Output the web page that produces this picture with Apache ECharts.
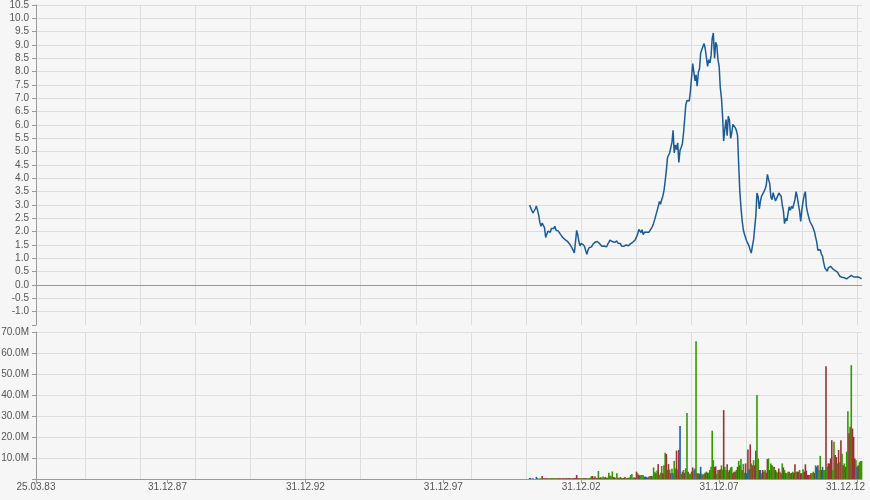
<!DOCTYPE html>
<html><head><meta charset="utf-8">
<script src="https://cdn.jsdelivr.net/npm/echarts@6/dist/echarts.min.js"></script>
<style>html,body{margin:0;padding:0;background:#f6f6f6}#c{width:870px;height:500px}</style>
</head><body><div id="c"></div>
<script>
// ---- axis / tick data ----
const xRange = ['1983-03-25', '2013-03-07'];
const xLabelDates = ['1983-03-25','1987-12-31','1992-12-31','1997-12-31','2002-12-31','2007-12-31','2012-12-31'];
const xGridDates = ['1984-12-31','1986-12-31','1988-12-31','1990-12-31','1992-12-31','1994-12-31','1996-12-31','1998-12-31','2000-12-31','2002-12-31','2004-12-31','2006-12-31','2008-12-31','2010-12-31','2012-12-31'];
const priceAxis = {min: -1.5, max: 10.5, step: 0.5};
const volAxis = {min: 0, max: 70, step: 10};   // millions

// ---- series data: semi-monthly samples (1st / 16th), first = 2001-02-16 ----
const seriesStart = {year: 2001, half: 3};
const price = [
 3.0,2.9,2.8,2.7,2.75,2.85,2.96,2.8,2.62,2.35,2.2,2.32,2.27,2.15,1.78,1.84,2.02,2.05,1.98,2.12,2.1,
 2.12,2.2,2.05,1.98,2.03,1.97,1.9,1.83,1.78,1.74,1.7,1.7,1.64,1.57,1.53,1.46,1.38,1.3,1.2,1.24,2.05,1.88,1.62,1.47,
 1.56,1.55,1.5,1.42,1.28,1.15,1.32,1.4,1.45,1.43,1.52,1.58,1.6,1.58,1.63,1.7,1.55,1.48,1.45,1.47,1.46,1.45,1.43,1.52,
 1.6,1.68,1.62,1.63,1.7,1.6,1.6,1.65,1.57,1.56,1.56,1.46,1.45,1.45,1.47,1.5,1.5,1.47,1.5,1.55,1.6,1.61,1.62,1.7,
 1.76,1.9,2.08,2.05,1.97,2.07,1.89,1.98,2.01,1.98,1.96,1.98,2.03,2.12,2.2,2.32,2.47,2.63,2.7,2.94,3.13,3.03,3.2,3.33,
 3.55,3.9,4.3,4.78,4.72,4.95,5.0,5.35,5.8,4.95,5.25,5.08,5.33,4.6,5.05,5.16,5.3,5.7,6.2,6.75,6.92,6.85,6.9,7.25,
 7.8,8.3,8.35,7.65,7.88,7.46,7.98,8.12,8.7,8.75,8.95,9.05,8.85,8.8,8.2,8.45,8.33,8.6,9.25,9.45,8.5,9.1,9.0,8.45,
 8.2,7.4,7.0,6.3,5.4,5.83,6.2,5.6,6.33,6.2,5.5,5.7,6.02,6.08,5.9,5.8,5.6,4.5,3.5,2.9,2.4,2.08,1.9,1.95,
 1.64,1.55,1.45,1.3,1.2,1.45,1.7,2.15,2.6,3.45,3.3,2.85,3.15,3.33,3.42,3.5,3.6,3.74,4.15,3.96,3.8,3.3,3.2,3.46,
 3.42,3.15,3.12,3.35,3.45,3.38,3.33,3.0,2.78,2.3,2.5,2.4,2.68,2.93,2.8,2.95,2.87,2.9,3.2,3.5,3.3,3.02,2.78,2.38,
 2.83,3.12,3.38,3.5,2.95,2.73,2.55,2.39,2.34,2.23,2.12,2.0,1.8,1.62,1.3,1.27,1.32,1.16,1.08,0.85,0.64,0.57,0.52,0.64,
 0.64,0.7,0.75,0.6,0.56,0.54,0.52,0.48,0.44,0.33,0.31,0.29,0.27,0.27,0.26,0.23,0.26,0.3,0.34,0.36,0.32,0.3,0.3,0.3,
 0.3,0.3,0.28,0.26,0.23
];
const volume = [
 0.5,0.5,0,0.4,0,0,1.0,0.4,0,0.3,0.3,1.4,0.4,0.4,0.4,0.4,0.3,0.4,0.3,0.4,0.4,
 0.4,0.4,0.4,0.4,0.3,0.4,0.4,0.3,0.4,0.4,0.4,0.4,0.4,0.4,0.4,0.4,0.4,0.4,0.4,0.5,1.9,0.5,0.4,0.4,
 0.4,0.4,0.4,0.4,0.5,0.4,0.4,0.5,0.6,1.4,1.4,0.5,1.2,0.6,0.5,3.8,0.6,0.8,0.6,1.2,0.6,1.0,0.5,0.6,
 3.0,1.5,1.2,3.6,0.9,0.8,0.6,2.7,0.6,0.5,1.0,0.5,0.4,0.5,1.0,0.5,0.5,0.6,0.8,1.9,2.4,0.4,0.8,0.5,
 3.5,2.7,2.0,1.6,1.9,1.9,1.8,1.0,1.2,0.8,0.7,1.2,1.4,1.5,1.3,5.5,3.5,2.7,4.0,7.1,1.9,3.0,6.2,2.7,
 6.6,12.5,11.9,4.3,7.1,4.5,2.7,4.9,2.7,8.6,5.0,13.5,4.5,13.8,25.2,2.4,3.5,4.3,3.0,5.1,31.4,3.5,2.5,2.5,
 3.5,5.5,4.0,5.0,65.6,2.7,2.7,2.5,5.8,2.5,2.0,2.5,3.0,3.5,3.0,3.0,4.3,5.8,23.0,9.0,5.8,6.0,2.5,4.3,
 4.3,4.6,6.5,4.5,32.8,5.8,4.3,7.0,3.5,4.3,5.5,5.8,2.7,3.5,3.5,4.3,5.8,8.6,6.5,9.5,4.3,7.1,3.0,7.4,
 2.7,14.0,4.6,16.5,7.4,6.5,9.0,6.5,13.5,40.0,9.8,4.3,4.3,2.7,4.3,3.5,4.3,3.0,9.5,9.8,4.3,7.4,6.5,5.8,
 5.8,4.3,3.5,3.0,5.0,3.5,2.7,7.4,5.5,4.3,2.9,2.7,3.5,3.5,2.7,2.9,3.5,3.0,7.0,3.5,3.5,3.5,4.3,2.7,
 2.7,4.6,3.5,7.0,4.0,1.9,1.9,1.9,2.7,2.7,3.5,2.9,6.5,5.8,6.5,4.3,11.0,4.3,5.8,4.3,4.3,53.7,5.8,7.4,
 7.4,9.8,18.5,4.3,17.7,11.4,10.5,7.4,13.8,8.0,18.5,12.0,6.5,7.4,5.8,13.0,32.3,21.7,24.9,54.2,24.0,20.0,9.8,9.0,
 5.8,6.5,8.0,8.6,8.6
];
// u = up (green), d = down (red), n = unchanged (blue)
const volumeDir = [
 'n n n n n n n n n u u d u d u d u d u d u',
 'd u d d u d d u d n d d u d d d u d d d d u d u',
 'd u d d u d u u u u d u d u d u d d u u d d u d',
 'u d u u d d u u d d u d u d d u d u u u u n d d',
 'd u d d u u u n n n n d u d u u u d u d u u u d',
 'd u d u d u d u n u u d u d n u d u d u u d u u',
 'u d u n u d u d n u d u d u d u d u u u d d u u',
 'd d u u d u u d u d u u d d d u d u d u d u u d',
 'n d n d u d u d d u u d n u d d u d d u d u d u',
 'u d u u d u d u d u d u u d u d u d d u d d u d',
 'd u d d d d d u d u u d u n d u u d n u u d u d',
 'd d d u u d d u d u d u d u d u u d d u d d d u',
 'n d u u u'
].join(' ').split(' ');
const colors = {u: '#339900', d: '#993333', n: '#1f5f9f'};

// ---- helpers ----
const ts = s => Date.parse(s + 'T00:00:00Z');
function sampleDate(i) {
  const h = seriesStart.half + i;
  const y = seriesStart.year + Math.floor(h / 24);
  const m = Math.floor((h % 24) / 2);
  return Date.UTC(y, m, h % 2 ? 16 : 1);
}
const pad = n => (n < 10 ? '0' : '') + n;
const fmtDate = v => { const d = new Date(v); return pad(d.getUTCDate()) + '.' + pad(d.getUTCMonth() + 1) + '.' + pad(d.getUTCFullYear() % 100); };

const priceData = price.map((v, i) => [sampleDate(i), v]);
const volData = volume.map((v, i) => ({value: [sampleDate(i), v], itemStyle: {color: colors[volumeDir[i]] || colors.d}}));

const txt = {fontFamily: 'Liberation Sans', fontSize: 10, color: '#555'};
const gridLine = {show: true, lineStyle: {color: '#dddddd', width: 1}};
const axisGray = {lineStyle: {color: '#999999', width: 1}};
const xMin = ts(xRange[0]), xMax = ts(xRange[1]);
const gridTs = xGridDates.map(ts), labelTs = xLabelDates.map(ts);
const lastLabel = labelTs[labelTs.length - 1];

const chart = echarts.init(document.getElementById('c'), null, {renderer: 'canvas'});
chart.setOption({
  animation: false,
  backgroundColor: '#f6f6f6',
  grid: [
    {left: 36, right: 8, top: 5, height: 320, outerBoundsMode: 'none', containLabel: false},
    {left: 36, right: 8, top: 332, height: 147, outerBoundsMode: 'none', containLabel: false}
  ],
  xAxis: [
    {type: 'value', gridIndex: 0, min: xMin, max: xMax,
     axisLine: {show: true, onZero: true, ...axisGray},
     axisTick: {show: false, customValues: gridTs},
     axisLabel: {show: false}, splitLine: gridLine},
    {type: 'value', gridIndex: 1, min: xMin, max: xMax, position: 'bottom',
     axisLine: {show: true, ...axisGray},
     axisTick: {show: false, customValues: gridTs},
     axisLabel: {show: false}, splitLine: gridLine},
    {type: 'value', gridIndex: 1, min: xMin, max: xMax, position: 'bottom', offset: 0,
     axisLine: {show: false},
     axisTick: {show: true, length: 4, customValues: labelTs, ...axisGray},
     axisLabel: {customValues: labelTs, margin: 3, ...txt,
       formatter: v => (v === lastLabel ? '{last|' + fmtDate(v) + '}' : fmtDate(v)),
       rich: {last: {padding: [0, 23, 0, 0], fontFamily: 'Liberation Sans', fontSize: 10, color: '#555'}}},
     splitLine: {show: false}}
  ],
  yAxis: [
    {type: 'value', gridIndex: 0, min: priceAxis.min, max: priceAxis.max, interval: priceAxis.step,
     axisLine: {show: true, onZero: false, ...axisGray},
     axisTick: {show: true, length: 4, ...axisGray},
     axisLabel: {margin: 7, formatter: v => (v === priceAxis.min ? '' : v.toFixed(1)), ...txt},
     splitLine: {...gridLine, showMinLine: false}},
    {type: 'value', gridIndex: 1, min: volAxis.min, max: volAxis.max, interval: volAxis.step,
     axisLine: {show: true, onZero: false, ...axisGray},
     axisTick: {show: true, length: 4, ...axisGray},
     axisLabel: {margin: 7, formatter: v => (v === 0 ? '' : v.toFixed(1) + 'M'), ...txt},
     splitLine: gridLine}
  ],
  series: [
    {type: 'line', xAxisIndex: 0, yAxisIndex: 0, data: priceData, showSymbol: false,
     lineStyle: {color: '#1b5c98', width: 1.5}, itemStyle: {color: '#1b5c98'}, z: 5},
    {type: 'bar', xAxisIndex: 1, yAxisIndex: 1, data: volData, barWidth: 1.6}
  ]
});
</script></body></html>
